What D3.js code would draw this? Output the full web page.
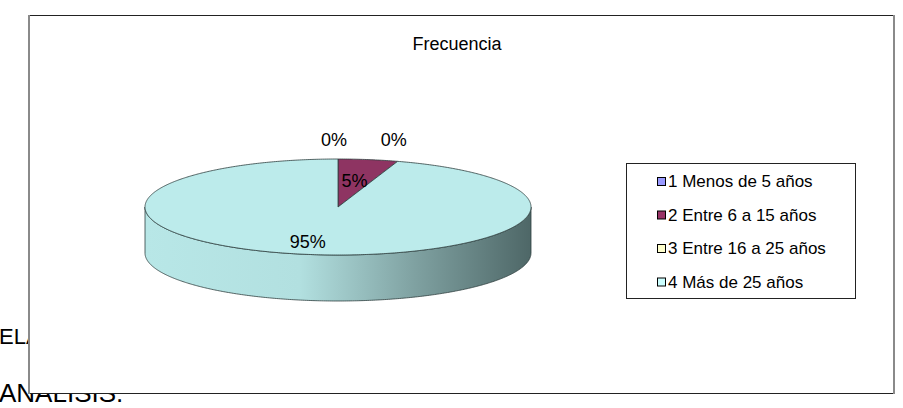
<!DOCTYPE html>
<html>
<head>
    <meta charset="utf-8">
    <title>Frecuencia</title>
    <script type="text/javascript" src="https://cdn.jsdelivr.net/npm/d3@7"></script>
    <style type="text/css">
        body { margin: 0; background: #fff; }
        text { font-family: "Liberation Sans", Arial, sans-serif; fill: #000; }
    </style>
</head>
<body>
<script type="text/javascript">
    // data
    var categories = ["1 Menos de 5 años", "2 Entre 6 a 15 años", "3 Entre 16 a 25 años", "4 Más de 25 años"],
        percents = [0, 5, 0, 95],
        legendColors = ["#9999FF", "#993366", "#FFFFCC", "#CCFFFF"],
        topColors = ["#9999FF", "#8E3462", "#FFFFCC", "#BCEBEB"];

    var w = 903, h = 408,
        cx = 338, cy = 207, rx = 193, ry = 48, depth = 46;

    var svg = d3.select("body").append("svg")
        .attr("width", w)
        .attr("height", h);

    // page text lying behind the chart
    svg.append("text").attr("x", -1).attr("y", 344)
        .style("font-size", "22px").text("ELACIÓN");
    svg.append("text").attr("x", -1).attr("y", 402)
        .style("font-size", "26px").text("ANALISIS.");
    svg.append("text").attr("x", 890).attr("y", 318)
        .style("font-size", "22px").text("I");

    // chart area
    svg.append("rect").attr("x", 29).attr("y", 15).attr("width", 865).attr("height", 378)
        .attr("fill", "#fff");
    svg.append("line").attr("x1", 29).attr("x2", 895).attr("y1", 15.5).attr("y2", 15.5)
        .attr("stroke", "#222").attr("stroke-width", 1);
    svg.append("line").attr("x1", 29).attr("x2", 895).attr("y1", 393.5).attr("y2", 393.5)
        .attr("stroke", "#222").attr("stroke-width", 1);
    svg.append("line").attr("x1", 29).attr("x2", 29).attr("y1", 15).attr("y2", 394)
        .attr("stroke", "#8a8a8a").attr("stroke-width", 2);
    svg.append("line").attr("x1", 894).attr("x2", 894).attr("y1", 15).attr("y2", 394)
        .attr("stroke", "#8a8a8a").attr("stroke-width", 2);

    svg.append("text")
        .attr("x", 457).attr("y", 50)
        .attr("text-anchor", "middle")
        .style("font-size", "18px")
        .text("Frecuencia");

    // side gradient
    var grad = svg.append("defs").append("linearGradient")
        .attr("id", "side").attr("gradientUnits", "userSpaceOnUse")
        .attr("x1", cx - rx).attr("x2", cx + rx).attr("y1", 0).attr("y2", 0);
    [[0, "#B8E7E7"], [0.4, "#B2E0E0"], [0.7, "#7FA1A1"], [1, "#4E6767"]].forEach(function (s) {
        grad.append("stop").attr("offset", s[0]).attr("stop-color", s[1]);
    });

    var pie = d3.pie().sort(null).value(function (d) { return d; });
    var arcs = pie(percents);

    function pt(a, f, dy) {
        f = f === undefined ? 1 : f;
        return [cx + rx * f * Math.sin(a), cy - ry * f * Math.cos(a) + (dy || 0)];
    }

    function arcPts(a0, a1, dy) {
        var n = Math.max(2, Math.ceil((a1 - a0) / 0.01)), out = [];
        for (var i = 0; i <= n; i++) out.push(pt(a0 + (a1 - a0) * i / n, 1, dy));
        return out;
    }

    var line = d3.line();

    // side walls (front half only)
    arcs.forEach(function (d, i) {
        var a0 = Math.max(d.startAngle, Math.PI / 2),
            a1 = Math.min(d.endAngle, 3 * Math.PI / 2);
        if (a1 <= a0) return;
        var pts = arcPts(a0, a1, 0).concat(arcPts(a0, a1, depth).reverse());
        svg.append("path")
            .attr("d", line(pts) + "Z")
            .attr("fill", i === 3 ? "url(#side)" : topColors[i])
            .attr("stroke", "#2f3f3f").attr("stroke-width", 0.8);
    });

    // top faces
    arcs.forEach(function (d, i) {
        if (d.endAngle - d.startAngle <= 0) return;
        var pts = [[cx, cy]].concat(arcPts(d.startAngle, d.endAngle, 0));
        svg.append("path")
            .attr("d", line(pts) + "Z")
            .attr("fill", topColors[i])
            .attr("stroke", "#2f3f3f").attr("stroke-width", 0.8)
            .attr("stroke-linejoin", "round");
    });

    // labels
    arcs.forEach(function (d, i) {
        var mid = (d.startAngle + d.endAngle) / 2, p;
        if (d.value === 0) {
            p = [pt(d.startAngle)[0] - 4, cy - ry - 13];
        } else if (d.value < 50) {
            p = pt(mid, 0.55);
            p[1] += 6;
        } else {
            p = pt(mid, 0.74);
            p[0] -= 8;
            p[1] += 6;
        }
        svg.append("text")
            .attr("x", p[0]).attr("y", p[1])
            .attr("text-anchor", "middle")
            .style("font-size", "18px")
            .text(d.value + "%");
    });

    // legend
    var legend = svg.append("g");
    legend.append("rect")
        .attr("x", 626.5).attr("y", 163.5).attr("width", 229).attr("height", 135)
        .attr("fill", "#fff").attr("stroke", "#222").attr("stroke-width", 1);

    var rowY = d3.scalePoint().domain(categories).range([187, 287.5]);

    categories.forEach(function (c, i) {
        legend.append("rect")
            .attr("x", 657.5).attr("y", rowY(c) - 9.5)
            .attr("width", 8).attr("height", 8)
            .attr("fill", legendColors[i])
            .attr("stroke", "#000").attr("stroke-width", 1);
        legend.append("text")
            .attr("x", 668).attr("y", rowY(c))
            .style("font-size", "17px")
            .text(c);
    });
</script>
</body>
</html>
